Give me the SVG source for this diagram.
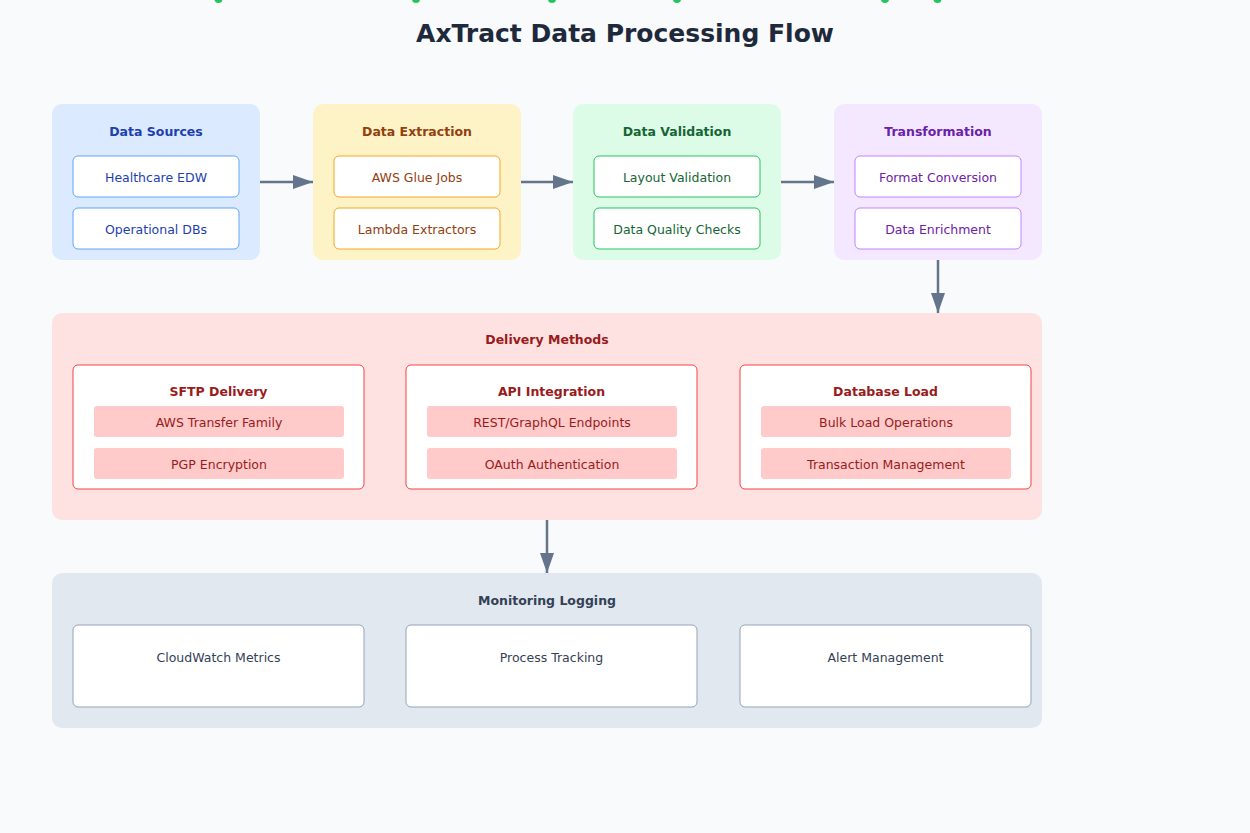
<svg xmlns="http://www.w3.org/2000/svg" width="1250" height="833" viewBox="0 0 1250 833">
<defs>
<style>
text{font-family:"DejaVu Sans",Verdana,sans-serif;text-anchor:middle;dominant-baseline:central}
.ttl{font-size:25px;font-weight:bold;fill:#1e293b}
.h{font-size:12.5px;font-weight:bold}
.t{font-size:12.5px}
.conn{stroke:#64748b;stroke-width:2.5;fill:none;marker-end:url(#ah)}
.dot{fill:#22c55e}
</style>
<marker id="ah" markerWidth="20" markerHeight="14" refX="20" refY="7" orient="auto" markerUnits="userSpaceOnUse">
<path d="M0,0 L20,7 L0,14 Z" fill="#64748b"/>
</marker>
</defs>
<rect x="0" y="0" width="1250" height="833" fill="#f8fafc"/>
<g id="dots">
<circle class="dot" cx="218.5" cy="-1" r="4"/>
<circle class="dot" cx="416" cy="-1" r="4"/>
<circle class="dot" cx="552" cy="-1" r="4"/>
<circle class="dot" cx="677" cy="-1" r="4"/>
<circle class="dot" cx="885" cy="-1" r="4"/>
<circle class="dot" cx="937.5" cy="-1" r="4"/>
</g>
<text class="ttl" x="625" y="33">AxTract Data Processing Flow</text>

<g id="sources">
<rect x="52" y="104" width="208" height="156" rx="10" fill="#dbeafe"/>
<text class="h" x="156" y="131" fill="#1e40af">Data Sources</text>
<rect x="73" y="156" width="166" height="41" rx="5" fill="#fff" stroke="#60a5fa"/>
<text class="t" x="156" y="177.5" fill="#1e40af">Healthcare EDW</text>
<rect x="73" y="208" width="166" height="41" rx="5" fill="#fff" stroke="#60a5fa"/>
<text class="t" x="156" y="229.5" fill="#1e40af">Operational DBs</text>
</g>
<g id="extraction">
<rect x="313" y="104" width="208" height="156" rx="10" fill="#fef3c7"/>
<text class="h" x="417" y="131" fill="#92400e">Data Extraction</text>
<rect x="334" y="156" width="166" height="41" rx="5" fill="#fff" stroke="#f5a623"/>
<text class="t" x="417" y="177.5" fill="#92400e">AWS Glue Jobs</text>
<rect x="334" y="208" width="166" height="41" rx="5" fill="#fff" stroke="#f5a623"/>
<text class="t" x="417" y="229.5" fill="#92400e">Lambda Extractors</text>
</g>
<g id="validation">
<rect x="573" y="104" width="208" height="156" rx="10" fill="#dcfce7"/>
<text class="h" x="677" y="131" fill="#166534">Data Validation</text>
<rect x="594" y="156" width="166" height="41" rx="5" fill="#fff" stroke="#22c55e"/>
<text class="t" x="677" y="177.5" fill="#166534">Layout Validation</text>
<rect x="594" y="208" width="166" height="41" rx="5" fill="#fff" stroke="#22c55e"/>
<text class="t" x="677" y="229.5" fill="#166534">Data Quality Checks</text>
</g>
<g id="transformation">
<rect x="834" y="104" width="208" height="156" rx="10" fill="#f3e8ff"/>
<text class="h" x="938" y="131" fill="#6b21a8">Transformation</text>
<rect x="855" y="156" width="166" height="41" rx="5" fill="#fff" stroke="#c084fc"/>
<text class="t" x="938" y="177.5" fill="#6b21a8">Format Conversion</text>
<rect x="855" y="208" width="166" height="41" rx="5" fill="#fff" stroke="#c084fc"/>
<text class="t" x="938" y="229.5" fill="#6b21a8">Data Enrichment</text>
</g>

<g id="delivery">
<rect x="52" y="313" width="990" height="207" rx="10" fill="#fee2e2"/>
<text class="h" x="547" y="339" fill="#991b1b">Delivery Methods</text>
<g id="sftp">
<rect x="73" y="365" width="291" height="124" rx="5" fill="#fff" stroke="#ef4444"/>
<text class="h" x="218.5" y="391" fill="#991b1b">SFTP Delivery</text>
<rect x="94" y="406" width="250" height="31" rx="3" fill="#fecaca"/>
<text class="t" x="219" y="422" fill="#991b1b">AWS Transfer Family</text>
<rect x="94" y="448" width="250" height="31" rx="3" fill="#fecaca"/>
<text class="t" x="219" y="464" fill="#991b1b">PGP Encryption</text>
</g>
<g id="api">
<rect x="406" y="365" width="291" height="124" rx="5" fill="#fff" stroke="#ef4444"/>
<text class="h" x="551.5" y="391" fill="#991b1b">API Integration</text>
<rect x="427" y="406" width="250" height="31" rx="3" fill="#fecaca"/>
<text class="t" x="552" y="422" fill="#991b1b">REST/GraphQL Endpoints</text>
<rect x="427" y="448" width="250" height="31" rx="3" fill="#fecaca"/>
<text class="t" x="552" y="464" fill="#991b1b">OAuth Authentication</text>
</g>
<g id="dbload">
<rect x="740" y="365" width="291" height="124" rx="5" fill="#fff" stroke="#ef4444"/>
<text class="h" x="885.5" y="391" fill="#991b1b">Database Load</text>
<rect x="761" y="406" width="250" height="31" rx="3" fill="#fecaca"/>
<text class="t" x="886" y="422" fill="#991b1b">Bulk Load Operations</text>
<rect x="761" y="448" width="250" height="31" rx="3" fill="#fecaca"/>
<text class="t" x="886" y="464" fill="#991b1b">Transaction Management</text>
</g>
</g>

<g id="monitoring">
<rect x="52" y="573" width="990" height="155" rx="10" fill="#e2e8f0"/>
<text class="h" x="547" y="600" fill="#334155">Monitoring Logging</text>
<g id="cloudwatch">
<rect x="73" y="625" width="291" height="82" rx="5" fill="#fff" stroke="#94a3b8"/>
<text class="t" x="218.5" y="657" fill="#334155">CloudWatch Metrics</text>
</g>
<g id="tracking">
<rect x="406" y="625" width="291" height="82" rx="5" fill="#fff" stroke="#94a3b8"/>
<text class="t" x="551.5" y="657" fill="#334155">Process Tracking</text>
</g>
<g id="alerts">
<rect x="740" y="625" width="291" height="82" rx="5" fill="#fff" stroke="#94a3b8"/>
<text class="t" x="885.5" y="657" fill="#334155">Alert Management</text>
</g>
</g>

<g id="connectors">
<line class="conn" x1="260" y1="182" x2="313" y2="182"/>
<line class="conn" x1="521" y1="182" x2="573" y2="182"/>
<line class="conn" x1="781" y1="182" x2="834" y2="182"/>
<line class="conn" x1="938" y1="260" x2="938" y2="313"/>
<line class="conn" x1="547" y1="520" x2="547" y2="573"/>
</g>
</svg>
